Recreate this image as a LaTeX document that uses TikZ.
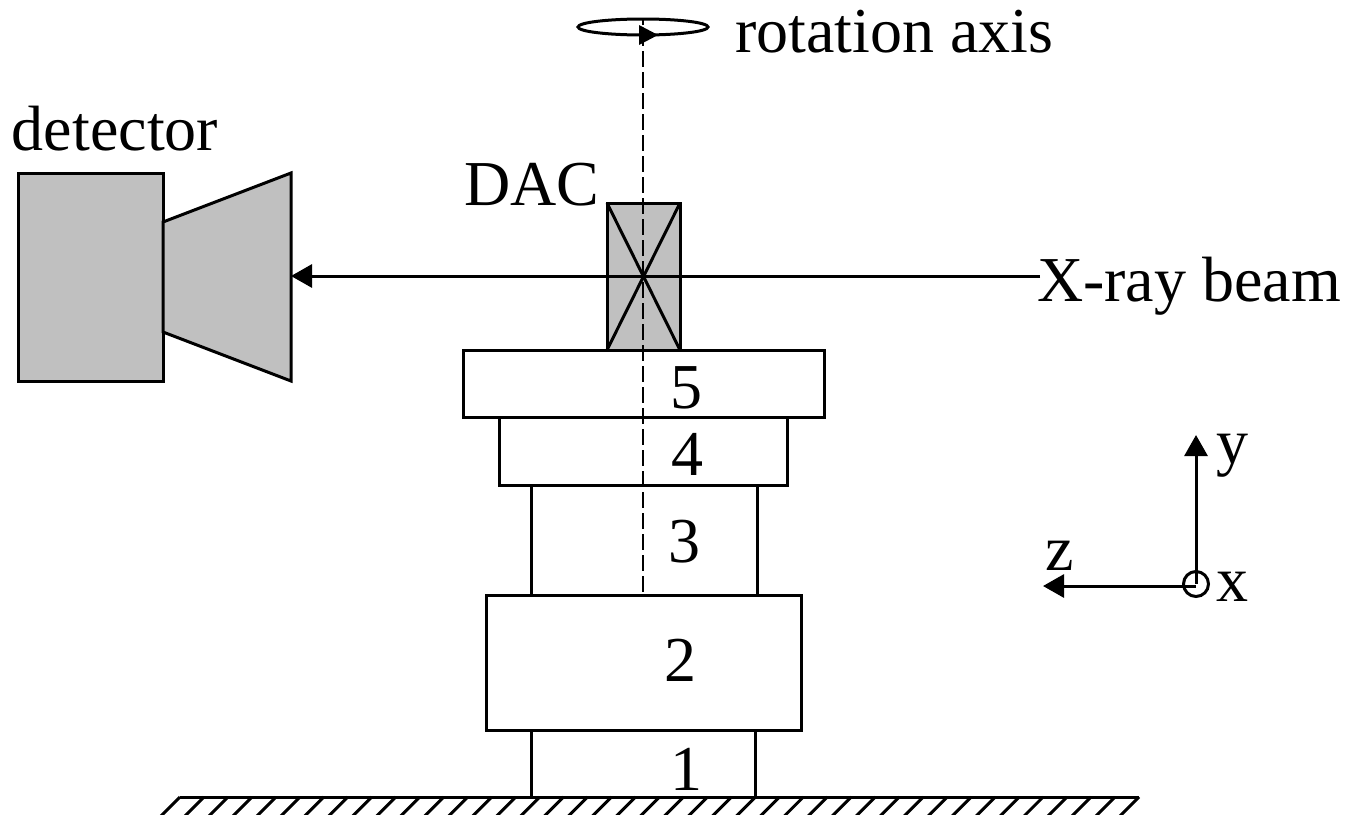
\documentclass[tikz,border=0pt]{standalone}
\usepackage{fontspec}
\setmainfont{Liberation Serif}
\usetikzlibrary{arrows.meta,shapes.geometric}
\definecolor{partgray}{HTML}{C0C0C0}
\tikzset{
  line/.style={line width=3pt,draw=black},
  tipline/.style={line,-{Triangle[length=21pt,width=23pt]}},
  partbox/.style={line,rectangle,inner sep=0pt,outer sep=0pt},
  txt/.style={inner sep=0pt,outer sep=0pt,anchor=base west,font=\fontsize{64}{70}\selectfont,text=black},
  num/.style={txt,anchor=base}
}
\begin{document}
\begin{tikzpicture}[x=1pt,y=-1pt]
\useasboundingbox (0,0) rectangle (1351,814);
% detector
\node[partbox,fill=partgray,minimum width=145pt,minimum height=208pt] (det) at (90.5,277) {};
\draw[line,fill=partgray] (163,222) -- (291,173) -- (291,381) -- (163,332) -- cycle;
\coordinate (beamtip) at (291,276);
\node[txt] (detlabel) at (12,150) {detector};
% stack
\node[partbox,minimum width=224pt,minimum height=67pt] (b1) at (643,763.5) {};
\node[partbox,minimum width=315pt,minimum height=135pt] (b2) at (643.5,662.5) {};
\node[partbox,minimum width=226pt,minimum height=110pt] (b3) at (644,540) {};
\node[partbox,minimum width=288pt,minimum height=68pt] (b4) at (643,451) {};
\node[partbox,minimum width=361pt,minimum height=67pt] (b5) at (643.5,383.5) {};
\node[partbox,fill=partgray,minimum width=73pt,minimum height=147pt] (dac) at (643.5,276.5) {};
\draw[line] (dac.north west) -- (dac.south east);
\draw[line] (dac.north east) -- (dac.south west);
\node[num] (n1) at (686,790) {1};
\node[num] (n2) at (680,681) {2};
\node[num] (n3) at (684,562) {3};
\node[num] (n4) at (687,475) {4};
\node[num] (n5) at (686,408) {5};
\node[txt] (daclabel) at (464,205) {DAC};
% rotation axis
\coordinate (axtop) at (643,19);
\draw[line,line width=2.5pt,dash pattern=on 16pt off 5pt,dash phase=10pt] (axtop) -- (b2.north -| axtop);
\node[line,ellipse,minimum width=130pt,minimum height=16pt,inner sep=0pt,outer sep=0pt] (ring) at (643,27) {};
\fill (639,25) -- (658,35) -- (639,45) -- cycle;
\node[txt] (rotlabel) at (735,52) {rotation axis};
% beam
\coordinate (beamin) at (1040,276);
\draw[tipline] (beamin) -- (beamtip);
\node[txt] (xlabel) at (1037,301) {X-ray beam};
% ground
\coordinate (gl) at (180,797);
\coordinate (gr) at (1139,797);
\begin{scope}
\clip (0,0) rectangle (1351,814);
\foreach \i in {0,...,40} {
  \draw[line] (180+\i*23.975,797) -- ++(-20,20);
}
\end{scope}
\draw[line] (gl) -- (gr);
% axes
\node[line,circle,minimum size=25pt,inner sep=0pt,outer sep=0pt] (origin) at (1196,584) {};
\draw[tipline] (origin.center) -- (1196,435);
\coordinate (zstart) at (1196,586);
\coordinate (ztip) at (1043,586);
\draw[tipline] (zstart) -- (ztip);
\node[txt] (ylabel) at (1216,463) {y};
\node[txt] (xaxis) at (1216,601) {x};
\node[txt] (zaxis) at (1045,570) {z};
\end{tikzpicture}
\end{document}
